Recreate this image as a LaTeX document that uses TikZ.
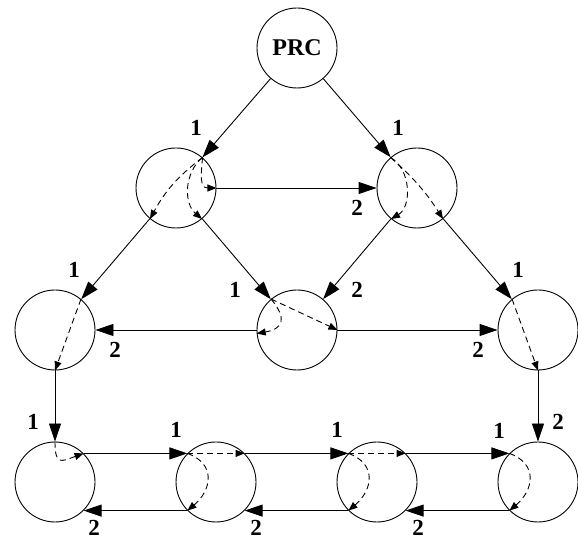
\documentclass[tikz,border=0pt]{standalone}
\usepackage{fontspec}
\setmainfont{Liberation Serif}
\usepackage{tikz}
\usetikzlibrary{arrows.meta,positioning}

\begin{document}
\begin{tikzpicture}[
    on grid,
    station/.style={circle, draw, line width=0.9pt, minimum size=80pt, inner sep=0pt, font=\fontsize{24}{24}\selectfont\bfseries},
    arrow/.style={-{Triangle[length=18pt,width=12pt]}, line width=0.9pt},
    flow/.style={-{Triangle[length=9pt,width=7pt]}, line width=0.9pt, dash pattern=on 6pt off 4pt},
    lbl/.style={font=\fontsize{23}{23}\selectfont\bfseries, inner sep=0pt}
]
\useasboundingbox (0,0) rectangle (578pt,540pt);

% Stations
\node[station] (prc) at (297pt,492pt) {PRC};
\node[station, below left=140pt and 121pt of prc] (a) {};
\node[station, right=241pt of a] (b) {};
\node[station, below left=142pt and 121pt of a] (c) {};
\node[station, right=242pt of c] (d) {};
\node[station, right=241pt of d] (e) {};
\node[station, below=152pt of c] (f) {};
\node[station, right=161pt of f] (g) {};
\node[station, right=161pt of g] (h) {};
\node[station, right=161pt of h] (i) {};

% Links
\draw[arrow] (prc) -- (a);
\draw[arrow] (prc) -- (b);
\draw[arrow] (a) -- (b);
\draw[arrow] (a) -- (c);
\draw[arrow] (a) -- (d);
\draw[arrow] (b) -- (d);
\draw[arrow] (b) -- (e);
\draw[arrow] (d) -- (c);
\draw[arrow] (d) -- (e);
\draw[arrow] (c) -- (f);
\draw[arrow] (e) -- (i);
\draw[arrow] (f.45) -- (g.135);
\draw[arrow] (g.45) -- (h.135);
\draw[arrow] (h.45) -- (i.135);
\draw[arrow] (g.225) -- (f.-45);
\draw[arrow] (h.225) -- (g.-45);
\draw[arrow] (i.225) -- (h.-45);

% Forwarding inside stations
\draw[flow] (a.49) to[bend right=12] (a.230);
\draw[flow] (a.49) to[bend right=50] (a.310);
\draw[flow] (a.49) to[out=-95, in=180, looseness=1.3] (a.east);
\draw[flow] (b.131) to[bend left=60] (b.230);
\draw[flow] (b.131) to[bend left=8] (b.310);
\draw[flow] (c.50) -- (c.south);
\draw[flow] (d.130) -- (d.east);
\draw[flow] (d.130) to[out=-50, in=10, looseness=1.8] (d.185);
\draw[flow] (e.130) -- (e.south);
\draw[flow] (f.north) to[out=-90, in=200, looseness=2] (f.45);
\draw[flow] (g.135) -- (g.45);
\draw[flow] (g.135) to[out=-20, in=40, looseness=1.4] (g.225);
\draw[flow] (h.135) -- (h.45);
\draw[flow] (h.135) to[out=-20, in=40, looseness=1.4] (h.225);
\draw[flow] (i.135) to[out=-20, in=40, looseness=1.4] (i.225);

% Port numbers
\node[lbl] (pa) at (196pt,412pt) {1};
\node[lbl] (pb) at (398pt,412pt) {1};
\node[lbl] (qb) at (357pt,332pt) {2};
\node[lbl] (pc) at (74pt,270pt) {1};
\node[lbl] (qc) at (115pt,190pt) {2};
\node[lbl] (pd) at (235pt,250pt) {1};
\node[lbl] (qd) at (357pt,250pt) {2};
\node[lbl] (pe) at (518pt,270pt) {1};
\node[lbl] (qe) at (478pt,190pt) {2};
\node[lbl] (pf) at (33pt,118pt) {1};
\node[lbl] (qf) at (94pt,12pt) {2};
\node[lbl] (pg) at (176pt,110pt) {1};
\node[lbl] (qg) at (256pt,12pt) {2};
\node[lbl] (ph) at (337pt,110pt) {1};
\node[lbl] (qh) at (418pt,12pt) {2};
\node[lbl] (pi) at (499pt,109pt) {1};
\node[lbl] (qi) at (558pt,118pt) {2};

\end{tikzpicture}
\end{document}
